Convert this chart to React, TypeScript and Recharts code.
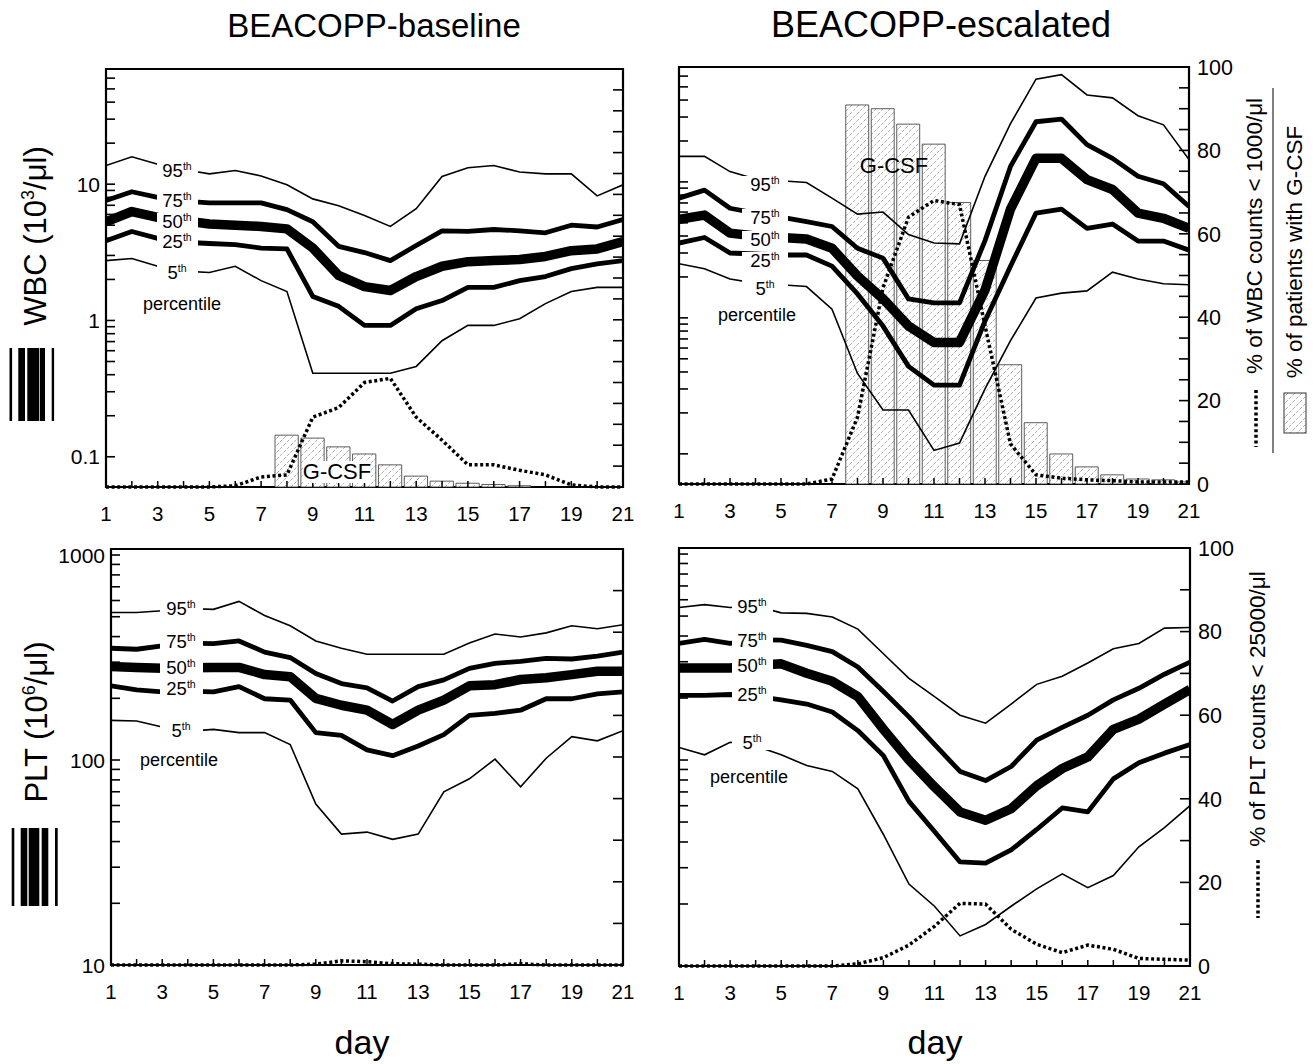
import { ComposedChart, Line, Bar, XAxis, YAxis, ReferenceArea } from "recharts";

const days = [1, 2, 3, 4, 5, 6, 7, 8, 9, 10, 11, 12, 13, 14, 15, 16, 17, 18, 19, 20, 21];

// WBC, BEACOPP-baseline (10^3/µl)
const wbcBase95 = [13.7, 15.9, 14.0, 12.8, 11.9, 12.6, 11.5, 9.9, 7.8, 6.95, 5.9, 4.9, 6.6, 11.4, 13.2, 13.7, 12.3, 11.9, 11.9, 8.2, 9.9];
const wbcBase75 = [7.6, 8.8, 8.0, 7.5, 7.3, 7.3, 7.3, 6.5, 5.3, 3.5, 3.15, 2.75, 3.55, 4.55, 4.5, 4.65, 4.55, 4.4, 5.0, 4.85, 5.5];
const wbcBase50 = [5.3, 6.3, 5.7, 5.4, 5.1, 5.0, 4.9, 4.7, 3.4, 2.14, 1.77, 1.66, 2.1, 2.5, 2.7, 2.75, 2.8, 2.95, 3.25, 3.35, 3.8];
const wbcBase25 = [3.85, 4.5, 4.0, 3.75, 3.67, 3.6, 3.4, 3.35, 1.5, 1.27, 0.92, 0.92, 1.22, 1.4, 1.75, 1.75, 1.96, 2.1, 2.4, 2.6, 2.75];
const wbcBase5 = [2.75, 2.85, 2.5, 2.3, 2.25, 2.5, 1.96, 1.63, 0.41, 0.41, 0.41, 0.41, 0.46, 0.71, 0.92, 0.92, 1.03, 1.33, 1.63, 1.75, 1.75];
const wbcBaseLow = [0, 0, 0, 0, 0, 0.3, 2.4, 2.9, 16.7, 19, 25, 26, 16.7, 11.2, 5.3, 5.3, 4, 2.9, 0.5, 0, 0];
const wbcBaseGcsf = [null, null, null, null, null, null, null, 12.4, 11.7, 9.6, 7.9, 5.3, 2.6, 1.4, 0.9, 0.6, 0.3, null, null, null, null];

// WBC, BEACOPP-escalated
const wbcEsc95 = [15.4, 15.4, 11.9, 10.5, 10.2, 9.9, 7.6, 5.8, 6.0, 4.1, 3.55, 3.5, 11, 26.8, 57, 61.5, 43.6, 41.5, 30.7, 26.3, 14.6];
const wbcEsc75 = [7.6, 8.7, 6.4, 5.9, 5.5, 5.1, 4.7, 3.25, 2.75, 1.38, 1.29, 1.29, 3.7, 13, 27.7, 29, 18.8, 14.9, 11, 9.7, 6.6];
const wbcEsc50 = [5.3, 5.7, 4.2, 4.0, 3.9, 3.8, 3.25, 2.03, 1.38, 0.87, 0.66, 0.66, 1.6, 6.3, 14.9, 14.9, 10.4, 8.8, 5.9, 5.4, 4.55];
const wbcEsc25 = [3.55, 3.9, 3.0, 2.95, 2.9, 2.9, 2.4, 1.5, 0.87, 0.44, 0.32, 0.32, 0.95, 2.4, 5.9, 6.3, 4.55, 4.9, 3.67, 3.67, 3.15];
const wbcEsc5 = [2.5, 2.3, 1.93, 1.8, 1.75, 1.7, 1.16, 0.39, 0.21, 0.21, 0.106, 0.12, 0.3, 0.68, 1.4, 1.52, 1.58, 2.17, 1.93, 1.78, 1.75];
const wbcEscLow = [0, 0, 0, 0, 0, 0, 1.2, 16, 47, 64, 68, 67, 38, 9.6, 2.2, 1.4, 1.0, 0.8, 0.5, 0.5, 0.5];
const wbcEscGcsf = [null, null, null, null, null, null, null, 90.9, 90, 86.3, 81.5, 67.5, 53.6, 28.6, 14.7, 7.2, 4.1, 2.2, 1.2, 1.0, 0.5];

// PLT, BEACOPP-baseline (10^6/µl)
const pltBase95 = [524, 524, 535, 548, 543, 594, 507, 452, 381, 351, 328, 328, 328, 328, 372, 412, 398, 417, 452, 437, 457];
const pltBase75 = [351, 347, 360, 372, 370, 381, 336, 316, 264, 236, 225, 194, 228, 246, 280, 296, 303, 313, 311, 321, 336];
const pltBase50 = [286, 283, 280, 282, 283, 283, 261, 255, 200, 185, 175, 149, 175, 196, 230, 233, 247, 252, 261, 271, 271];
const pltBase25 = [230, 220, 215, 217, 215, 228, 199, 196, 136, 132, 112, 105, 117, 133, 165, 169, 175, 199, 199, 210, 215];
const pltBase5 = [156, 155, 145, 138, 141, 136, 136, 119, 61, 43.5, 44.5, 41, 43.5, 70, 81, 101, 74, 102, 130, 124, 139];
const pltBaseLow = [0, 0, 0, 0, 0, 0, 0, 0, 0.2, 1, 0.8, 0.3, 0.2, 0, 0, 0, 0.3, 0, 0, 0, 0];

// PLT, BEACOPP-escalated
const pltEsc95 = [550, 568, 550, 560, 518, 515, 495, 432, 328, 249, 203, 165, 151, 187, 233, 255, 296, 347, 368, 437, 440];
const pltEsc75 = [368, 385, 368, 383, 382, 360, 336, 283, 215, 162, 119, 88, 79.5, 93, 125, 144, 165, 196, 223, 261, 299];
const pltEsc50 = [280, 280, 280, 288, 293, 264, 241, 203, 141, 100, 74, 56, 51, 58, 75, 91, 103.5, 141, 158, 187, 220];
const pltEsc25 = [206, 206, 208, 204, 196, 187, 171, 139, 105, 63, 45, 32, 31.6, 36.6, 46, 58.5, 56, 81, 97, 108, 119];
const pltEsc5 = [115, 106, 122, 117, 106, 94, 88, 72.5, 43.5, 25, 19.5, 14, 15.9, 19.5, 23.7, 28, 24, 27.5, 37.9, 47, 60];
const pltEscLow = [0, 0, 0, 0, 0, 0, 0, 0.5, 2, 5, 9.5, 15, 14.8, 8.8, 5.2, 3.2, 5, 4, 1.8, 1.6, 1.4];

const wbcTicks = [0.1, 0.2, 0.3, 0.4, 0.5, 0.6, 0.7, 0.8, 0.9, 1, 2, 3, 4, 5, 6, 7, 8, 9, 10, 20, 30, 40, 50, 60];
const pltTicks = [10, 20, 30, 40, 50, 60, 70, 80, 90, 100, 200, 300, 400, 500, 600, 700, 800, 900, 1000];
const pctTicks5 = [0, 5, 10, 15, 20, 25, 30, 35, 40, 45, 50, 55, 60, 65, 70, 75, 80, 85, 90, 95, 100];
const pctTicks10 = [0, 10, 20, 30, 40, 50, 60, 70, 80, 90, 100];

const buildRows = (p95: number[], p75: number[], p50: number[], p25: number[], p5: number[], low: number[], gcsf?: (number | null)[]) =>
  days.map((day, i) => ({ day, p95: p95[i], p75: p75[i], p50: p50[i], p25: p25[i], p5: p5[i], low: low[i], gcsf: gcsf ? gcsf[i] : null }));

const FONT = '"Liberation Sans", Arial, sans-serif';

const renderXTick = (props: any) => {
  const { x, y, payload } = props;
  const v = payload.value;
  return (
    <g>
      <line x1={x} x2={x} y1={y} y2={y - 6} stroke="#000" strokeWidth={1.5} />
      {v % 2 === 1 && (
        <text x={x} y={y + 34} textAnchor="middle" fontSize={20.5} fill="#000">
          {v}
        </text>
      )}
    </g>
  );
};

const makeLogTick = (labels: boolean) => (props: any) => {
  const { x, y, payload } = props;
  const v = payload.value;
  const lg = Math.log10(v);
  const decade = Math.abs(lg - Math.round(lg)) < 1e-6;
  return (
    <g>
      <line x1={x} x2={x + 9} y1={y} y2={y} stroke="#000" strokeWidth={1.6} />
      {labels && decade && (
        <text x={x - 6} y={y} dy="0.36em" textAnchor="end" fontSize={21} fill="#000">
          {v}
        </text>
      )}
    </g>
  );
};

const makePctTick = (labels: boolean) => (props: any) => {
  const { x, y, payload } = props;
  const v = payload.value;
  return (
    <g>
      <line x1={x - 10} x2={x} y1={y} y2={y} stroke="#000" strokeWidth={1.6} />
      {labels && v % 20 === 0 && (
        <text x={x + 8} y={y} dy="0.36em" textAnchor="start" fontSize={21.5} fill="#000">
          {v}
        </text>
      )}
    </g>
  );
};

type PanelProps = {
  left: number;
  top: number;
  w: number;
  h: number;
  rows: any[];
  yDomain: [number, number];
  yTicks: number[];
  leftLabels: boolean;
  pctTicks: number[];
  rightLabels: boolean;
  bars: boolean;
};

const AX = 60;
const TM = 16;
const XH = 42;
const BM = 4;

function Panel(p: PanelProps) {
  return (
    <div style={{ position: "absolute", left: p.left - AX, top: p.top - TM }}>
      <ComposedChart
        width={p.w + 2 * AX}
        height={p.h + TM + XH + BM}
        data={p.rows}
        margin={{ top: TM, right: 0, bottom: BM, left: 0 }}
        barGap={0}
        barCategoryGap={0}
      >
        <XAxis
          type="number"
          dataKey="day"
          domain={[1, 21]}
          ticks={days}
          interval={0}
          allowDataOverflow
          height={XH}
          axisLine={false}
          tickLine={false}
          tickSize={0}
          tickMargin={0}
          tick={renderXTick}
        />
        <YAxis
          yAxisId="log"
          type="number"
          scale="log"
          domain={p.yDomain}
          allowDataOverflow
          ticks={p.yTicks}
          interval={0}
          width={AX}
          axisLine={false}
          tickLine={false}
          tickSize={0}
          tickMargin={0}
          tick={makeLogTick(p.leftLabels)}
        />
        <YAxis
          yAxisId="pct"
          orientation="right"
          type="number"
          domain={[0, 100]}
          ticks={p.pctTicks}
          interval={0}
          width={AX}
          axisLine={false}
          tickLine={false}
          tickSize={0}
          tickMargin={0}
          tick={makePctTick(p.rightLabels)}
        />
        {p.bars && (
          <Bar
            yAxisId="pct"
            dataKey="gcsf"
            barSize={p.w / 20}
            fill="url(#hatch)"
            stroke="#333"
            strokeWidth={0.8}
            isAnimationActive={false}
          />
        )}
        <Line yAxisId="log" type="linear" dataKey="p95" stroke="#000" strokeWidth={1.6} dot={false} isAnimationActive={false} />
        <Line yAxisId="log" type="linear" dataKey="p75" stroke="#000" strokeWidth={4.8} strokeLinejoin="round" dot={false} isAnimationActive={false} />
        <Line yAxisId="log" type="linear" dataKey="p50" stroke="#000" strokeWidth={9.5} strokeLinejoin="round" dot={false} isAnimationActive={false} />
        <Line yAxisId="log" type="linear" dataKey="p25" stroke="#000" strokeWidth={4.8} strokeLinejoin="round" dot={false} isAnimationActive={false} />
        <Line yAxisId="log" type="linear" dataKey="p5" stroke="#000" strokeWidth={1.6} dot={false} isAnimationActive={false} />
        <Line
          yAxisId="pct"
          type="linear"
          dataKey="low"
          stroke="#000"
          strokeWidth={3.5}
          strokeDasharray="3 2.6"
          dot={false}
          isAnimationActive={false}
        />
        <ReferenceArea
          yAxisId="pct"
          x1={1}
          x2={21}
          y1={0}
          y2={100}
          fill="none"
          fillOpacity={0}
          stroke="#000"
          strokeWidth={2.2}
          ifOverflow="visible"
        />
      </ComposedChart>
    </div>
  );
}

const PctLabel = ({ x, y, n, w }: { x: number; y: number; n: string; w: number }) => (
  <div
    style={{
      position: "absolute",
      left: x - w / 2,
      top: y - 8,
      width: w,
      height: 16,
      background: "#fff",
      textAlign: "center",
      fontSize: 18.5,
      lineHeight: "17px",
      whiteSpace: "nowrap",
    }}
  >
    {n}
    <span style={{ fontSize: 10.5, position: "relative", top: -7 }}>th</span>
  </div>
);

const Text = ({ x, y, size, children, bg }: any) => (
  <div
    style={{
      position: "absolute",
      left: x,
      top: y,
      transform: "translate(-50%,-50%)",
      fontSize: size,
      lineHeight: 1,
      whiteSpace: "nowrap",
      background: bg || "transparent",
    }}
  >
    {children}
  </div>
);

const VText = ({ x, y, size, children }: any) => (
  <div
    style={{
      position: "absolute",
      left: x,
      top: y,
      transform: "translate(-50%,-50%) rotate(-90deg)",
      fontSize: size,
      lineHeight: 1,
      whiteSpace: "nowrap",
    }}
  >
    {children}
  </div>
);

const WidthIcon = ({ top, bottom, bars }: { top: number; bottom: number; bars: [number, number][] }) => (
  <svg style={{ position: "absolute", left: 0, top: 0 }} width={70} height={1064}>
    {bars.map(([x, w], i) => (
      <rect key={i} x={x} y={top} width={w} height={bottom - top} fill="#000" />
    ))}
  </svg>
);

const PercentileLabels = ({ x, ys, w, px, py }: { x: number; ys: number[]; w: number; px: number; py: number }) => (
  <>
    <PctLabel x={x} y={ys[0]} n="95" w={w} />
    <PctLabel x={x} y={ys[1]} n="75" w={w} />
    <PctLabel x={x} y={ys[2]} n="50" w={w} />
    <PctLabel x={x} y={ys[3]} n="25" w={w} />
    <PctLabel x={x} y={ys[4]} n="5" w={w} />
    <Text x={px} y={py} size={18}>
      percentile
    </Text>
  </>
);

export default function App() {
  return (
    <div
      style={{
        position: "absolute",
        left: 0,
        top: 0,
        width: 1316,
        height: 1064,
        background: "#fff",
        fontFamily: FONT,
        color: "#000",
        overflow: "hidden",
      }}
    >
      <svg width={0} height={0} style={{ position: "absolute" }}>
        <defs>
          <pattern id="hatch" patternUnits="userSpaceOnUse" width={7} height={7}>
            <rect x={0} y={0} width={7} height={7} fill="#fff" />
            <line x1={0} y1={7} x2={7} y2={0} stroke="#8a8a8a" strokeWidth={0.7} strokeDasharray="3 1.5" />
          </pattern>
        </defs>
      </svg>

      <Panel
        left={106}
        top={69}
        w={517}
        h={418}
        rows={buildRows(wbcBase95, wbcBase75, wbcBase50, wbcBase25, wbcBase5, wbcBaseLow, wbcBaseGcsf)}
        yDomain={[0.06, 70]}
        yTicks={wbcTicks}
        leftLabels
        pctTicks={pctTicks5}
        rightLabels={false}
        bars
      />
      <Panel
        left={679}
        top={67}
        w={510}
        h={417}
        rows={buildRows(wbcEsc95, wbcEsc75, wbcEsc50, wbcEsc25, wbcEsc5, wbcEscLow, wbcEscGcsf)}
        yDomain={[0.06, 70]}
        yTicks={wbcTicks}
        leftLabels={false}
        pctTicks={pctTicks5}
        rightLabels
        bars
      />
      <Panel
        left={111}
        top={549}
        w={512}
        h={416}
        rows={buildRows(pltBase95, pltBase75, pltBase50, pltBase25, pltBase5, pltBaseLow)}
        yDomain={[10, 1070]}
        yTicks={pltTicks}
        leftLabels
        pctTicks={pctTicks10}
        rightLabels={false}
        bars={false}
      />
      <Panel
        left={679}
        top={548}
        w={511}
        h={418}
        rows={buildRows(pltEsc95, pltEsc75, pltEsc50, pltEsc25, pltEsc5, pltEscLow)}
        yDomain={[10, 1070]}
        yTicks={pltTicks}
        leftLabels={false}
        pctTicks={pctTicks10}
        rightLabels
        bars={false}
      />

      {/* titles */}
      <Text x={374} y={25} size={33}>
        BEACOPP-baseline
      </Text>
      <Text x={941} y={25} size={36}>
        BEACOPP-escalated
      </Text>
      <Text x={362} y={1042} size={34}>
        day
      </Text>
      <Text x={935} y={1042} size={34}>
        day
      </Text>

      {/* left axis titles with line-width key */}
      <VText x={35} y={236} size={31}>
        WBC (10<sup style={{ fontSize: 18 }}>3</sup>/μl)
      </VText>
      <VText x={36} y={722} size={31}>
        PLT (10<sup style={{ fontSize: 18 }}>6</sup>/μl)
      </VText>
      <WidthIcon top={348} bottom={421} bars={[[9.5, 2.6], [18.3, 6.7], [27.3, 12], [40, 5], [51.7, 2.4]]} />
      <WidthIcon top={828} bottom={906} bars={[[11.7, 2.6], [20.7, 6.6], [28.7, 10.6], [41.7, 6.6], [55, 2.7]]} />

      {/* percentile labels */}
      <PercentileLabels x={177} ys={[170, 200, 221, 241, 272]} w={41} px={182} py={304} />
      <PercentileLabels x={765} ys={[184, 217, 239, 260, 288]} w={46} px={757} py={315} />
      <PercentileLabels x={181} ys={[608, 641, 667, 688, 730]} w={43} px={179} py={760} />
      <PercentileLabels x={752} ys={[606, 640, 665, 694, 742]} w={41} px={749} py={777} />

      <Text x={337} y={472} size={22} bg="#fff">
        G-CSF
      </Text>
      <Text x={894} y={166} size={22}>
        G-CSF
      </Text>

      {/* right-side axis titles */}
      <VText x={1255} y={236} size={22.5}>
        % of WBC counts &lt; 1000/μl
      </VText>
      <VText x={1295} y={252} size={22.5}>
        % of patients with G-CSF
      </VText>
      <VText x={1258} y={709} size={22.5}>
        % of PLT counts &lt; 25000/μl
      </VText>
      <svg style={{ position: "absolute", left: 1230, top: 80 }} width={86} height={860}>
        <line x1={26} x2={26} y1={310} y2={367} stroke="#000" strokeWidth={3.5} strokeDasharray="3 2.6" />
        <line x1={43} x2={43} y1={8} y2={373} stroke="#000" strokeWidth={1} />
        <rect x={54} y={313} width={22} height={40} fill="url(#hatch)" stroke="#333" strokeWidth={1} />
        <line x1={28} x2={28} y1={780} y2={838} stroke="#000" strokeWidth={3.5} strokeDasharray="3 2.6" />
      </svg>
    </div>
  );
}
